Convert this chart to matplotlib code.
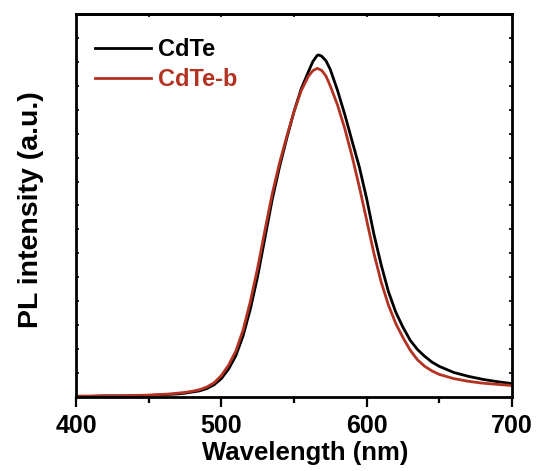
import matplotlib
matplotlib.use("Agg")
import matplotlib.pyplot as plt
from matplotlib.ticker import MultipleLocator

plt.rcParams['font.family'] = ['Liberation Sans', 'DejaVu Sans']
plt.rcParams['font.weight'] = 'bold'

# PL spectra (normalised intensity, arbitrary units)
wl_cdte = [400, 410, 420, 430, 440, 450, 460, 465, 470, 475, 480, 485, 490,
           495, 500, 505, 510, 515, 520, 525, 530, 535, 540, 545, 550, 555,
           560, 563, 566, 567, 569, 572, 575, 580, 585, 590, 595, 600, 605,
           610, 615, 620, 625, 630, 635, 640, 645, 650, 660, 670, 680, 690, 700]
int_cdte = [0.002, 0.002, 0.003, 0.003, 0.003, 0.004, 0.006, 0.007, 0.008,
            0.010, 0.013, 0.016, 0.022, 0.032, 0.048, 0.073, 0.108, 0.160,
            0.230, 0.315, 0.415, 0.515, 0.600, 0.675, 0.745, 0.805, 0.850,
            0.876, 0.892, 0.893, 0.890, 0.878, 0.855, 0.800, 0.737, 0.668,
            0.600, 0.518, 0.425, 0.345, 0.275, 0.222, 0.182, 0.148, 0.124,
            0.106, 0.091, 0.080, 0.064, 0.054, 0.046, 0.040, 0.035]

wl_cdteb = [400, 410, 420, 430, 440, 450, 460, 465, 470, 475, 480, 485, 490,
            495, 500, 505, 510, 515, 520, 525, 530, 535, 540, 545, 550, 555,
            560, 563, 566, 569, 572, 575, 580, 585, 590, 595, 600, 605, 610,
            615, 620, 625, 630, 635, 640, 645, 650, 660, 670, 680, 690, 700]
int_cdteb = [0.002, 0.002, 0.003, 0.003, 0.004, 0.005, 0.007, 0.008, 0.010,
             0.012, 0.015, 0.019, 0.026, 0.037, 0.056, 0.083, 0.120, 0.175,
             0.250, 0.337, 0.435, 0.530, 0.610, 0.680, 0.745, 0.800, 0.838,
             0.852, 0.858, 0.853, 0.838, 0.812, 0.762, 0.700, 0.628, 0.548,
             0.462, 0.375, 0.300, 0.240, 0.192, 0.155, 0.122, 0.097, 0.080,
             0.068, 0.059, 0.048, 0.041, 0.036, 0.033, 0.030]

series_names = ['CdTe', 'CdTe-b']
series_colors = ['#000000', '#B33222']

x_major = [400, 500, 600, 700]

fig = plt.figure(figsize=(5.37, 4.71), dpi=100)
ax = fig.add_axes([0.1415, 0.1571, 0.8119, 0.8132])

ax.plot(wl_cdte, int_cdte, color=series_colors[0], lw=2.0, label=series_names[0])
ax.plot(wl_cdteb, int_cdteb, color=series_colors[1], lw=2.0, label=series_names[1])

ax.set_xlim(400, 700)
ax.set_ylim(0, 1.0)
ax.set_xticks(x_major)
ax.xaxis.set_minor_locator(MultipleLocator(50))
ax.yaxis.set_major_locator(MultipleLocator(0.0625))
ax.set_yticklabels([])

for s in ax.spines.values():
    s.set_linewidth(2.0)

ax.tick_params(axis='x', which='major', direction='out', length=7, width=1.6,
               labelsize=18, pad=5, top=False)
ax.tick_params(axis='x', which='minor', direction='out', length=4.5, width=1.6,
               top=False)
ax.tick_params(axis='y', which='major', direction='in', length=2, width=1.2,
               left=True, right=True)

# tiny inward ticks along the top edge
ax_top = ax.secondary_xaxis('top')
ax_top.set_xticks(list(range(400, 701, 50)))
ax_top.tick_params(direction='in', length=2, width=1.2, labeltop=False)
ax_top.spines['top'].set_linewidth(2.0)

for lab in ax.get_xticklabels():
    lab.set_fontweight('bold')

ax.set_xlabel('Wavelength (nm)', fontsize=18.5, fontweight='bold')
ax.xaxis.set_label_coords(0.525, -0.116)
ax.set_ylabel('PL intensity (a.u.)', fontsize=20.5, fontweight='bold')
ax.yaxis.set_label_coords(-0.073, 0.49)

leg = ax.legend(loc='upper left', bbox_to_anchor=(-0.006, 0.993), frameon=False,
                handlelength=2.4, handletextpad=0.3,
                labelspacing=0.3, borderaxespad=0.5, labelcolor='linecolor',
                prop={'weight': 'bold', 'size': 17})

fig.savefig('out.png', dpi=100)
